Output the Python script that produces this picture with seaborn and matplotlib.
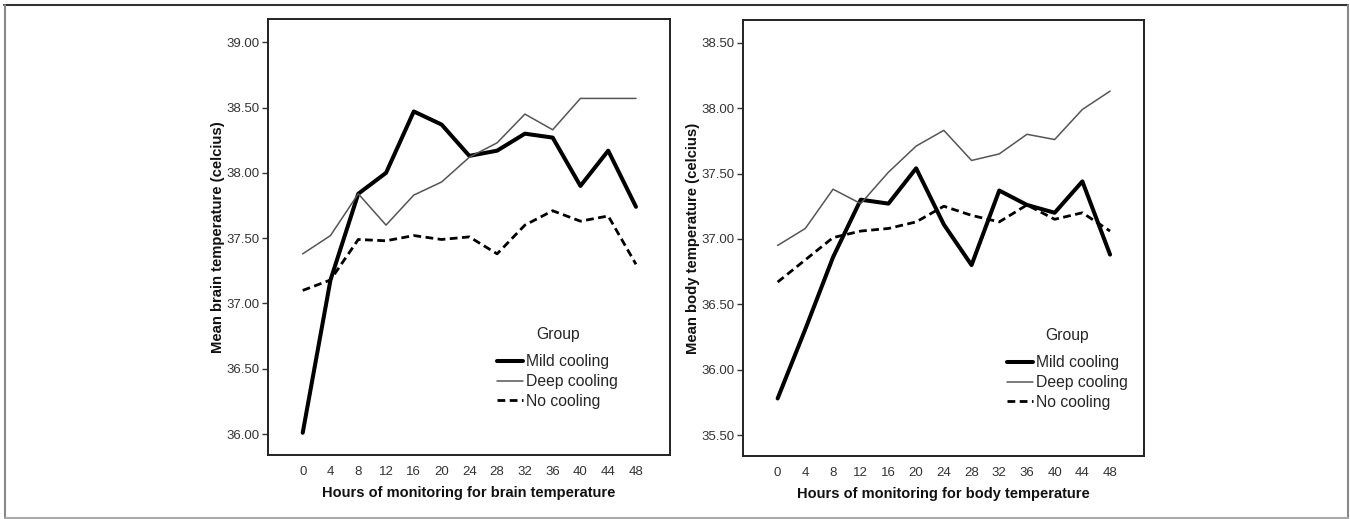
import matplotlib
matplotlib.use("Agg")
import matplotlib.pyplot as plt
import seaborn as sns
import pandas as pd
from matplotlib.lines import Line2D

hours = [0, 4, 8, 12, 16, 20, 24, 28, 32, 36, 40, 44, 48]
groups = ["Mild cooling", "Deep cooling", "No cooling"]

brain_mild = [36.01, 37.18, 37.84, 38.00, 38.47, 38.37, 38.13, 38.17, 38.30, 38.27, 37.90, 38.17, 37.74]
brain_deep = [37.38, 37.52, 37.84, 37.60, 37.83, 37.93, 38.12, 38.23, 38.45, 38.33, 38.57, 38.57, 38.57]
brain_none = [37.10, 37.18, 37.49, 37.48, 37.52, 37.49, 37.51, 37.38, 37.60, 37.71, 37.63, 37.67, 37.30]

body_mild = [35.78, 36.31, 36.86, 37.30, 37.27, 37.54, 37.11, 36.80, 37.37, 37.26, 37.20, 37.44, 36.88]
body_deep = [36.95, 37.08, 37.38, 37.27, 37.51, 37.71, 37.83, 37.60, 37.65, 37.80, 37.76, 37.99, 38.13]
body_none = [36.67, 36.84, 37.01, 37.06, 37.08, 37.13, 37.25, 37.18, 37.13, 37.26, 37.15, 37.20, 37.06]

brain_yticks = [36.0, 36.5, 37.0, 37.5, 38.0, 38.5, 39.0]
body_yticks = [35.5, 36.0, 36.5, 37.0, 37.5, 38.0, 38.5]

sns.set_style("white")
plt.rcParams["font.family"] = ["Liberation Sans", "DejaVu Sans"]

W, H = 1350, 519
fig = plt.figure(figsize=(W / 100, H / 100), dpi=100)

def px_axes(x0, x1, ytop, ybot):
    return fig.add_axes([x0 / W, 1 - ybot / H, (x1 - x0) / W, (ybot - ytop) / H])

ax1 = px_axes(268, 670, 19, 455)
ax2 = px_axes(743, 1144, 20, 456)

styles = {
    "Mild cooling": dict(color="black", lw=2.9, linestyle="-"),
    "Deep cooling": dict(color="#555555", lw=1.1, linestyle="-"),
    "No cooling": dict(color="black", lw=2.0, linestyle=(0, (2.8, 1.6))),
}

def draw(ax, series, yticks, ylim, xlabel, ylabel, leg_x):
    for g, vals in zip(groups, series):
        df = pd.DataFrame({"Hour": hours, "Temp": vals})
        sns.lineplot(data=df, x="Hour", y="Temp", ax=ax, label=g, **styles[g])
    ax.set_xlim(-5, 52.9)
    ax.set_ylim(*ylim)
    ax.set_xticks(hours)
    ax.set_xticklabels([str(h) for h in hours])
    ax.set_yticks(yticks)
    ax.set_yticklabels([f"{v:.2f}" for v in yticks])
    for s in ax.spines.values():
        s.set_visible(True)
        s.set_color("#222222")
        s.set_linewidth(1.4)
    ax.tick_params(axis="x", length=0, pad=8, labelsize=9.5, labelcolor="#333333")
    ax.tick_params(axis="y", length=4.5, width=1, color="#333333", pad=1.5,
                   labelsize=9.5, labelcolor="#333333", left=True)
    ax.set_xlabel(xlabel, fontsize=10.5, fontweight="bold", labelpad=6, color="#111111")
    ax.set_ylabel(ylabel, fontsize=10.7, fontweight="bold", labelpad=1, color="#111111")
    leg = ax.legend(loc="upper left", bbox_to_anchor=(leg_x, 0.294), frameon=False,
                    title="Group", fontsize=11.3, title_fontsize=11.3,
                    handlelength=1.65, handletextpad=0.2, labelspacing=0.3,
                    borderpad=0, borderaxespad=0)
    leg._legend_box.sep = 9

draw(ax1, [brain_mild, brain_deep, brain_none], brain_yticks, (35.84, 39.178),
     "Hours of monitoring for brain temperature", "Mean brain temperature (celcius)", 0.570)
draw(ax2, [body_mild, body_deep, body_none], body_yticks, (35.34, 38.674),
     "Hours of monitoring for body temperature", "Mean body temperature (celcius)", 0.658)

# outer frame
fig.add_artist(Line2D([4 / W, 1348 / W], [1 - 4.5 / H, 1 - 4.5 / H], color="#333333", lw=1.5))
fig.add_artist(Line2D([4.5 / W, 4.5 / W], [1 - 4.5 / H, 1 - 517.5 / H], color="#888888", lw=1.5))
fig.add_artist(Line2D([1348 / W, 1348 / W], [1 - 4.5 / H, 1 - 517.5 / H], color="#888888", lw=1.5))
fig.add_artist(Line2D([4.5 / W, 1348 / W], [1 - 517.5 / H, 1 - 517.5 / H], color="#aaaaaa", lw=1.5))

fig.savefig("out.png", dpi=100)
